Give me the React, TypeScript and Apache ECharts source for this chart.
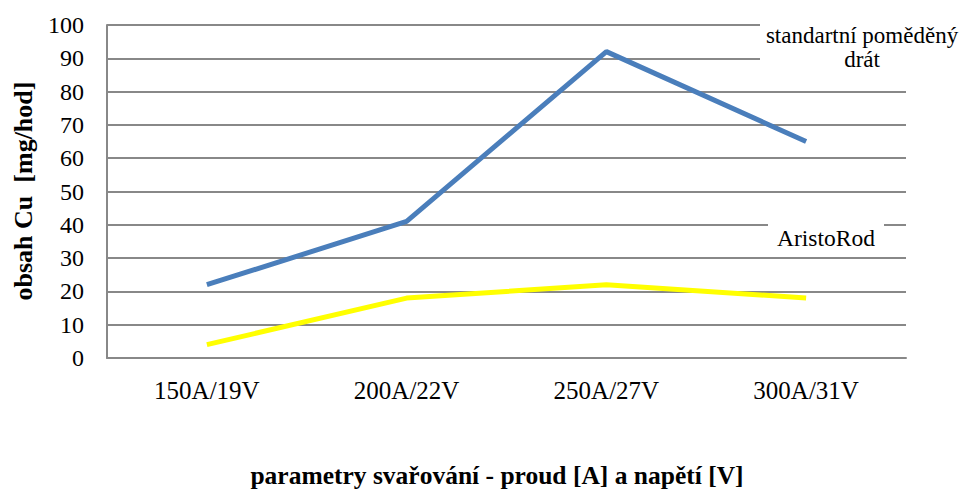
import React, { useEffect, useRef } from "react";
import * as echarts from "echarts";

const categories = ["150A/19V", "200A/22V", "250A/27V", "300A/31V"];
const standardWire = [22, 41, 92, 65];
const aristoRod = [4, 18, 22, 18];
const seriesNames = ["standartní poměděný\ndrát", "AristoRod"];
const yTitle = "obsah Cu  [mg/hod]";
const xTitle = "parametry svařování - proud [A] a napětí [V]";

const FONT = "Liberation Serif";

export default function App() {
  const ref = useRef<HTMLDivElement>(null);
  useEffect(() => {
    if (!ref.current) return;
    const chart = echarts.init(ref.current, undefined, { renderer: "svg" });
    chart.setOption({
      animation: false,
      backgroundColor: "#ffffff",
      textStyle: { fontFamily: FONT },
      grid: { left: 107, right: 62, top: 25, bottom: 132, containLabel: false },
      xAxis: {
        type: "category",
        data: categories,
        boundaryGap: true,
        axisLine: { show: true, lineStyle: { color: "#888888", width: 2 } },
        axisTick: { show: false },
        axisLabel: { color: "#000", fontFamily: FONT, fontSize: 25, margin: 20 },
      },
      yAxis: {
        type: "value",
        min: 0,
        max: 100,
        interval: 10,
        axisLine: { show: true, lineStyle: { color: "#888888", width: 2 } },
        axisTick: { show: false },
        splitLine: { show: true, lineStyle: { color: "#888888", width: 2 } },
        axisLabel: { color: "#000", fontFamily: FONT, fontSize: 24, margin: 23 },
      },
      series: [
        {
          name: seriesNames[0],
          type: "line",
          data: standardWire,
          symbol: "none",
          lineStyle: { color: "#4a7ebb", width: 5 },
          z: 3,
        },
        {
          name: seriesNames[1],
          type: "line",
          data: aristoRod,
          symbol: "none",
          lineStyle: { color: "#ffff00", width: 5 },
          z: 2,
        },
      ],
      graphic: [
        { type: "rect", shape: { x: 760, y: 20, width: 208, height: 56 }, style: { fill: "#fff" }, z: 10 },
        {
          type: "text",
          x: 862,
          y: 47,
          z: 11,
          style: {
            text: seriesNames[0],
            fontFamily: FONT,
            fontSize: 23,
            fill: "#000",
            align: "center",
            verticalAlign: "middle",
            lineHeight: 24,
          },
        },
        { type: "rect", shape: { x: 768, y: 220, width: 116, height: 30 }, style: { fill: "#fff" }, z: 10 },
        {
          type: "text",
          x: 826,
          y: 238,
          z: 11,
          style: {
            text: seriesNames[1],
            fontFamily: FONT,
            fontSize: 23.5,
            fill: "#000",
            align: "center",
            verticalAlign: "middle",
          },
        },
        {
          type: "text",
          x: 497,
          y: 475,
          z: 11,
          style: {
            text: xTitle,
            fontFamily: FONT,
            fontSize: 25.5,
            fontWeight: "bold",
            fill: "#000",
            align: "center",
            verticalAlign: "middle",
          },
        },
        {
          type: "text",
          x: 23,
          y: 191,
          rotation: Math.PI / 2,
          z: 11,
          style: {
            text: yTitle,
            fontFamily: FONT,
            fontSize: 26,
            fontWeight: "bold",
            fill: "#000",
            align: "center",
            verticalAlign: "middle",
          },
        },
      ],
    });
    return () => chart.dispose();
  }, []);
  return <div ref={ref} style={{ width: 968, height: 490, position: "absolute", left: 0, top: 0 }} />;
}
